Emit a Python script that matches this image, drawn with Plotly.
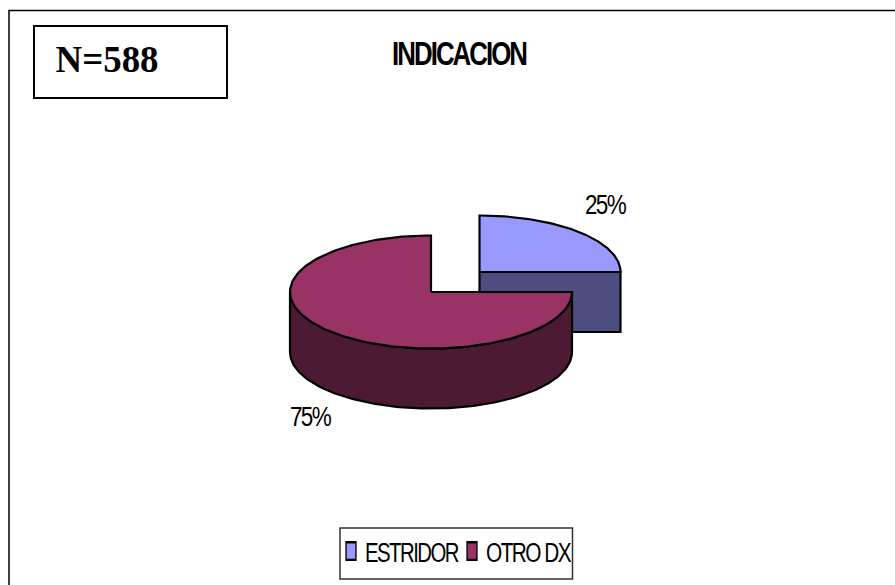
import json
import numpy as np
import plotly.graph_objects as go

# Chart content
categories = ["ESTRIDOR", "OTRO DX"]
shares = [25, 75]
top_colors = ["#9999FF", "#993366"]
side_colors = ["#4D4D80", "#4D1A33"]
title_text = "INDICACION"
sample_text = "N=588"

W, H = 895, 585
SANS = "Liberation Sans"

# Pie layout in page pixels: the first wedge is pulled out up and to the right
CENTERS = [(479.5, 272.0), (431.0, 292.0)]
RX, RY, DEPTH = 141.0, 56.5, 60.0


def rim(cx, cy, a0, a1, n=160):
    t = np.radians(np.linspace(a0, a1, n))
    return cx + RX * np.sin(t), cy - RY * np.cos(t)


# Turn the shares into clockwise angles starting from twelve o'clock
edges = np.concatenate([[0], np.cumsum(shares)]) / np.sum(shares) * 360.0

fig = go.Figure()
outline = dict(color="black", width=2.2)

for i, (name, share) in enumerate(zip(categories, shares)):
    cx, cy = CENTERS[i]
    a0, a1 = edges[i], edges[i + 1]

    # Visible part of the wall: the arc facing the viewer, plus the cut face
    lo, hi = max(a0, 90.0), min(a1, 270.0)
    if hi > lo:
        ax, ay = rim(cx, cy, lo, hi)
        sx = np.concatenate([ax, ax[::-1], ax[:1]])
        sy = np.concatenate([ay, ay[::-1] + DEPTH, ay[:1]])
    else:
        ex, ey = rim(cx, cy, a1, a1, 1)
        sx = np.array([cx, ex[0], ex[0], cx, cx])
        sy = np.array([cy, ey[0], ey[0] + DEPTH, cy + DEPTH, cy])
    fig.add_trace(go.Scatter(x=sx, y=sy, mode="lines", fill="toself",
                             fillcolor=side_colors[i], line=outline,
                             showlegend=False, hoverinfo="skip"))

    # Top face of the wedge
    ax, ay = rim(cx, cy, a0, a1)
    fig.add_trace(go.Scatter(x=np.concatenate([[cx], ax, [cx]]),
                             y=np.concatenate([[cy], ay, [cy]]),
                             mode="lines", fill="toself",
                             fillcolor=top_colors[i], line=outline,
                             showlegend=False, name=name,
                             hovertemplate=f"{name}: {share}%<extra></extra>"))

# Legend entries
for name, color in zip(categories, top_colors):
    fig.add_trace(go.Scatter(x=[None], y=[None], mode="markers", name=name,
                             marker=dict(symbol="square", size=11, color=color,
                                         line=dict(color="black", width=1.5))))

# Percentage labels
label_font = dict(family=SANS, size=27, color="black")
label_pos = [(605, 205), (310, 417)]
for (x, y), share in zip(label_pos, shares):
    fig.add_annotation(x=x, y=y, text=f"{share}%", showarrow=False,
                       font=label_font, xanchor="center", yanchor="middle")

# Sample-size box and title
fig.add_shape(type="rect", x0=34, y0=26, x1=227, y1=98, line=dict(color="black", width=2))
fig.add_annotation(x=106.5, y=59, text=sample_text, showarrow=False,
                   font=dict(family="Liberation Serif", size=38, color="black", weight="bold"))
fig.add_annotation(x=459, y=53, text=title_text, showarrow=False,
                   font=dict(family=SANS, size=33, color="black", weight="bold"))

# Outer frame, open on the right and at the bottom
fig.add_shape(type="path", path=f"M 9 {H} L 9 10.5 L {W} 10.5",
              line=dict(color="black", width=1.5))

# Box behind the legend entries
fig.add_shape(type="rect", x0=340, y0=528, x1=572.5, y1=579, line=dict(color="#333333", width=1.5))

fig.update_layout(
    width=W, height=H, margin=dict(l=0, r=0, t=0, b=0),
    paper_bgcolor="white", plot_bgcolor="white",
    xaxis=dict(range=[0, W], visible=False, fixedrange=True),
    yaxis=dict(range=[H, 0], visible=False, fixedrange=True),
    legend=dict(orientation="h", x=331 / W, y=1 - 527 / H, xanchor="left", yanchor="top",
                bgcolor="rgba(0,0,0,0)", borderwidth=0,
                font=dict(family=SANS, size=27, color="black"),
                entrywidth=76, entrywidthmode="pixels", itemsizing="trace",
                traceorder="normal", itemwidth=30),
)

# Condense the sans-serif text to its set widths and stretch the legend keys
text_widths = {"25%": 40, "75%": 40, title_text: 134, sample_text: 103,
               categories[0]: 93, categories[1]: 84}
tracking = {title_text: "-2.5px", categories[0]: "-2px", categories[1]: "-2px",
            "25%": "-2px", "75%": "-2px"}
condense = """
var gd = document.getElementById('{plot_id}');
var widths = %s, tracking = %s;
gd.querySelectorAll('.annotation-text, .legendtext').forEach(function (t) {
  var label = t.textContent;
  if (tracking[label]) { t.style.letterSpacing = tracking[label]; }
  if (widths[label]) {
    t.setAttribute('textLength', widths[label]);
    t.setAttribute('lengthAdjust', 'spacingAndGlyphs');
  }
});
gd.querySelectorAll('.legendtext').forEach(function (t) {
  t.setAttribute('x', parseFloat(t.getAttribute('x')) - 6);
});
gd.querySelectorAll('.legendpoints path.scatterpts').forEach(function (p) {
  p.setAttribute('transform', p.getAttribute('transform') + ' scale(0.9,1.6)');
});
""" % (json.dumps(text_widths), json.dumps(tracking))
fig.write_html("out.html", post_script=condense, config={"displayModeBar": False})
